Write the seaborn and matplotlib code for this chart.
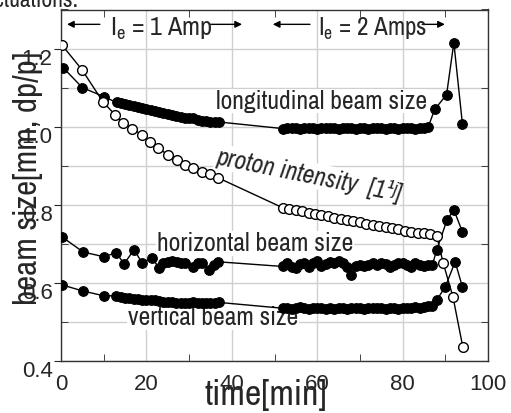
#--Beam size and proton intensity vs time (electron cooling run)--#
import seaborn as sns
import pandas as pd
import matplotlib.pyplot as plt
import matplotlib.transforms as mtransforms
from matplotlib import font_manager as fm
from matplotlib.ticker import MultipleLocator

#--Data--#
long_t = [0.5, 5, 10, 13, 14, 15, 16, 17, 18, 19, 20, 21, 22, 23, 24, 25, 26, 27, 28, 29, 30,
          31, 32, 33, 34, 35, 36, 37,
          52, 53, 54, 55, 56, 57, 58, 59, 60, 61, 62, 63, 64, 65, 66, 67, 68, 69, 70, 71, 72,
          73, 74, 75, 76, 77, 78, 79, 80, 81, 82, 83, 84, 85, 86, 87.5, 90.3, 92, 94]
long_v = [1.151, 1.100, 1.077, 1.062, 1.060, 1.058, 1.055, 1.053, 1.051, 1.049, 1.045, 1.042,
          1.040, 1.037, 1.035, 1.033, 1.031, 1.028, 1.024, 1.023, 1.022, 1.021, 1.018, 1.015,
          1.014, 1.013, 1.013, 1.012,
          0.995, 0.997, 0.996, 0.997, 0.995, 0.996, 0.997, 0.996, 0.995, 0.997, 0.996, 0.996,
          0.997, 0.995, 0.996, 0.997, 0.996, 0.995, 0.997, 0.996, 0.995, 0.996, 0.997, 0.996,
          0.995, 0.996, 0.997, 0.995, 0.996, 0.997, 0.996, 0.995, 0.996, 0.997, 0.999,
          1.044, 1.082, 1.215, 1.008]

prot_t = [0.3, 4.9, 9.8, 12.6, 14.5, 16.6, 19, 20.8, 22.7, 25, 27.1, 29, 30.9, 33, 34.9, 36.8,
          52, 53.5, 55, 56.5, 58, 59.5, 61, 62.5, 64, 65.5, 67, 68.5, 70, 71.5, 73, 74.5, 76,
          77.5, 79, 80.5, 82, 83.5, 85, 86.5, 88, 89.5, 91.8, 94.1]
prot_v = [1.208, 1.146, 1.064, 1.031, 1.010, 0.995, 0.979, 0.962, 0.946, 0.928, 0.915, 0.903,
          0.895, 0.885, 0.879, 0.869,
          0.792, 0.789, 0.786, 0.783, 0.780, 0.777, 0.773, 0.770, 0.767, 0.764, 0.761, 0.758,
          0.755, 0.752, 0.749, 0.746, 0.743, 0.740, 0.737, 0.734, 0.731, 0.729, 0.727, 0.725,
          0.720, 0.651, 0.564, 0.436]

hor_t = [0.2, 5.2, 10, 12.9, 14.8, 17.1, 19, 21.3, 23, 24, 25, 26, 27.1, 28, 29, 30.9, 32, 33,
         34.7, 35.8, 36.8,
         52, 53, 54, 55, 56, 57, 58, 59, 60, 61, 62, 63, 64, 65, 66, 67, 68, 69, 70, 71, 72, 73,
         74, 75, 76, 77, 78, 79, 80, 81, 82, 83, 84, 85, 86, 87, 88, 90.4, 92, 94]
hor_v = [0.718, 0.679, 0.667, 0.677, 0.649, 0.685, 0.651, 0.664, 0.638, 0.652, 0.654, 0.655,
         0.654, 0.652, 0.651, 0.641, 0.650, 0.651, 0.633, 0.645, 0.654,
         0.642, 0.650, 0.640, 0.637, 0.648, 0.652, 0.640, 0.650, 0.655, 0.642, 0.648, 0.653,
         0.650, 0.655, 0.652, 0.640, 0.620, 0.642, 0.645, 0.643, 0.646, 0.650, 0.647, 0.650,
         0.648, 0.640, 0.645, 0.650, 0.652, 0.645, 0.641, 0.650, 0.646, 0.644, 0.645, 0.647,
         0.685, 0.761, 0.787, 0.731]

ver_t = [0.2, 5.2, 10, 12.9, 14, 15, 16, 17, 18, 19, 20, 21, 22, 23, 24, 25, 26, 27, 28, 29,
         30, 31, 32, 33, 34, 35, 36, 37,
         52, 53, 54, 55, 56, 57, 58, 59, 60, 61, 62, 63, 64, 65, 66, 67, 68, 69, 70, 71, 72,
         73, 74, 75, 76, 77, 78, 79, 80, 81, 82, 83, 84, 85, 86, 87, 88, 90, 92.3, 94]
ver_v = [0.595, 0.579, 0.567, 0.567, 0.564, 0.562, 0.561, 0.560, 0.558, 0.557, 0.556, 0.556,
         0.555, 0.553, 0.552, 0.551, 0.550, 0.548, 0.549, 0.549, 0.548, 0.550, 0.549, 0.548,
         0.548, 0.549, 0.548, 0.550,
         0.535, 0.536, 0.534, 0.535, 0.537, 0.535, 0.534, 0.536, 0.535, 0.536, 0.534, 0.535,
         0.533, 0.535, 0.536, 0.534, 0.535, 0.536, 0.535, 0.534, 0.536, 0.535, 0.536, 0.535,
         0.534, 0.536, 0.535, 0.534, 0.536, 0.535, 0.536, 0.537, 0.536, 0.538, 0.540, 0.541,
         0.556, 0.590, 0.654, 0.590]

#--Fonts: use a narrow face if one is installed--#
sns.set_style("ticks")
fam, stretch = 'Liberation Sans', 'normal'
cands = [f for f in fm.fontManager.ttflist
         if f.style == 'normal' and f.weight in (400, 'normal', 'regular')
         and (str(f.stretch) in ('condensed', 'semi-condensed')
              or 'Narrow' in f.name or 'Condensed' in f.name)]
cands.sort(key=lambda f: ('Narrow' not in f.name, 'Liberation' not in f.name))
if cands:
    fam, stretch = cands[0].name, str(cands[0].stretch)
plt.rcParams['font.family'] = [fam, 'Liberation Sans', 'DejaVu Sans']
plt.rcParams['font.stretch'] = stretch
plt.rcParams['mathtext.fontset'] = 'custom'
plt.rcParams['mathtext.rm'] = fam

fig = plt.figure(figsize=(5.11, 4.13), dpi=100)
ax = fig.add_axes([61 / 511, 1 - 361 / 413, 427 / 511, 351.5 / 413])

#--Series--#
filled = dict(color='k', lw=1, marker='o', markersize=7, markerfacecolor='k',
              markeredgecolor='k', sort=False, zorder=4)
sns.lineplot(x=long_t, y=long_v, ax=ax, **filled)
sns.lineplot(x=hor_t, y=hor_v, ax=ax, **filled)
sns.lineplot(x=ver_t, y=ver_v, ax=ax, **filled)
sns.lineplot(x=prot_t, y=prot_v, ax=ax, color='k', lw=1, marker='o', markersize=7,
             markerfacecolor='white', markeredgecolor='k', markeredgewidth=1,
             sort=False, zorder=5)

#--Axes--#
ax.set_xlim(0, 100)
ax.set_ylim(0.4, 1.3)
ax.xaxis.set_major_locator(MultipleLocator(20))
ax.xaxis.set_minor_locator(MultipleLocator(10))
ax.yaxis.set_minor_locator(MultipleLocator(0.1))
ax.set_yticks([0.4, 0.6, 0.8, 1.0, 1.2])
ax.set_yticklabels(['0.4', '0.6', '0.8', '1.0', '1.2'])
ax.grid(axis='x', which='major', color='#cfcfcf', lw=1)
ax.grid(axis='y', which='both', color='#cfcfcf', lw=1)
ax.set_axisbelow(True)
for s in ax.spines.values():
    s.set_color('#333333')
    s.set_linewidth(1)
    s.set_visible(True)

ax.tick_params(axis='x', which='major', direction='in', length=0, pad=9,
               labelsize=16, labelfontfamily='Liberation Sans')
ax.tick_params(axis='y', which='major', direction='out', length=5, pad=1,
               labelsize=16, labelfontfamily='Liberation Sans')
ax.tick_params(which='minor', direction='in', length=5, top=True, right=True)

offset = mtransforms.ScaledTranslation(0, -0.08, fig.dpi_scale_trans)
for tick in ax.yaxis.get_major_ticks():
    tick.label1.set_transform(tick.label1.get_transform() + offset)

ax.set_xlabel('time[min]', fontsize=21)
ax.xaxis.set_label_coords(0.48, -0.05)
ax.set_ylabel('beam size[mm, dp/p]', fontsize=21)
ax.yaxis.set_label_coords(-0.042, 0.52)

#--Labels on the curves--#
box = dict(facecolor='white', edgecolor='none', pad=0.5)
t_long = ax.text(36.2, 1.046, 'longitudinal beam size', fontsize=18, bbox=box, zorder=3)
t_hor = ax.text(22.5, 0.682, 'horizontal beam size', fontsize=18, bbox=box, zorder=3)
t_ver = ax.text(15.7, 0.492, 'vertical beam size', fontsize=18, bbox=box, zorder=3)
t_prot = ax.text(36.0, 0.905, 'proton intensity  [1¹ʲ]', fontsize=18, style='italic',
                 rotation=0, rotation_mode='anchor', bbox=box, zorder=3)

#--Current regions--#
arrow = dict(arrowstyle='-|>', color='k', lw=1, mutation_scale=10, shrinkA=0, shrinkB=0)
ax.annotate('', xy=(1.4, 1.262), xytext=(9.1, 1.262), arrowprops=arrow)
ax.annotate('', xy=(42.4, 1.262), xytext=(35.0, 1.262), arrowprops=arrow)
t_amp1 = ax.text(11.5, 1.233, r'$\mathregular{I_e}$ = 1 Amp', fontsize=17)
ax.annotate('', xy=(49.6, 1.262), xytext=(58.3, 1.262), arrowprops=arrow)
ax.annotate('', xy=(89.9, 1.262), xytext=(84.6, 1.262), arrowprops=arrow)
t_amp2 = ax.text(60.2, 1.233, r'$\mathregular{I_e}$ = 2 Amps', fontsize=17)

#--Clipped caption text at the top--#
fig.text(-0.05, 1 - 7 / 413, 'fluctuations:', fontsize=17, va='baseline')

#--Match text widths to the reference (pixels)--#
fig.canvas.draw()
rend = fig.canvas.get_renderer()
for txt, target in [(t_long, 211), (t_hor, 196), (t_ver, 170), (t_prot, 189),
                    (t_amp1, 103), (t_amp2, 109), (ax.xaxis.label, 123)]:
    w = txt.get_window_extent(rend).width
    txt.set_fontsize(txt.get_fontsize() * target / w)
h = ax.yaxis.label.get_window_extent(rend).height
ax.yaxis.label.set_fontsize(ax.yaxis.label.get_fontsize() * 253 / h)
t_prot.set_rotation(-11.5)

fig.savefig('out.png', dpi=100)
